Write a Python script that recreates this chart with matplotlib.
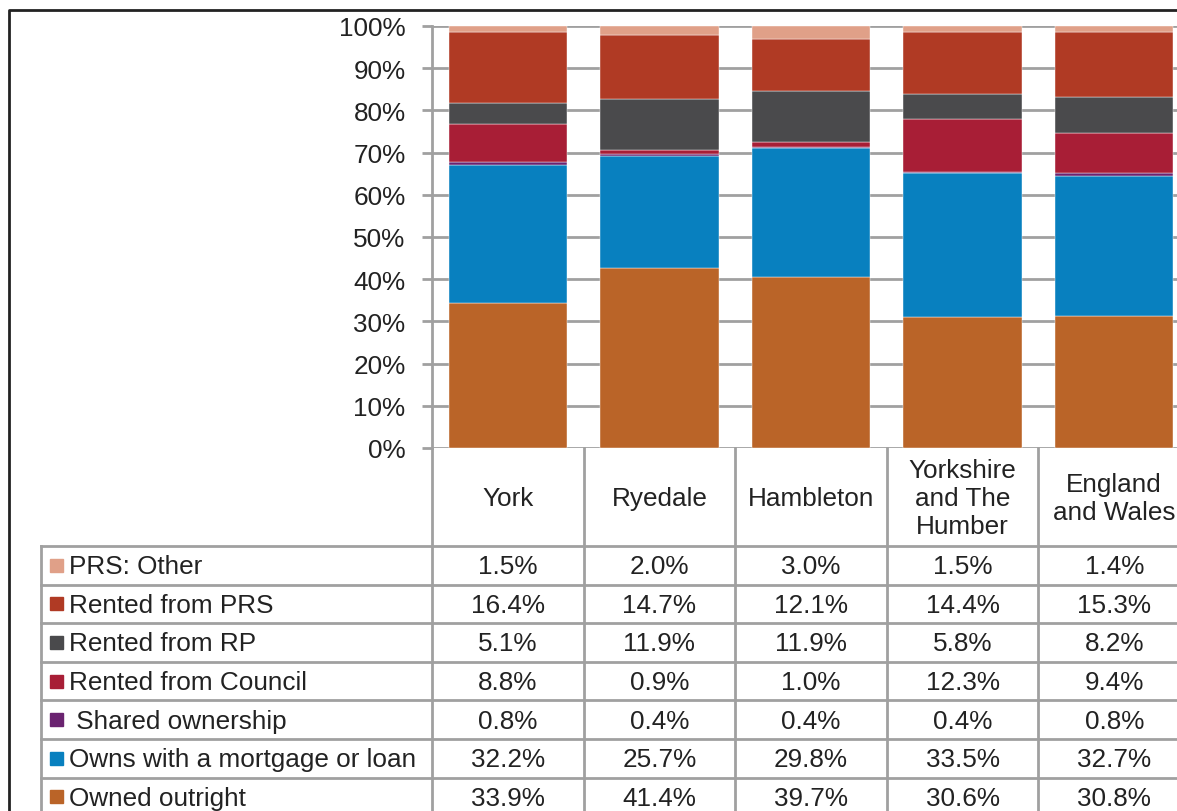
import numpy as np
import matplotlib.pyplot as plt

plt.rcParams['font.family'] = ['Liberation Sans', 'DejaVu Sans']

# Dados
areas = ['York', 'Ryedale', 'Hambleton', 'Yorkshire\nand The\nHumber', 'England\nand Wales']
tenures = ['PRS: Other', 'Rented from PRS', 'Rented from RP', 'Rented from Council',
           ' Shared ownership', 'Owns with a mortgage or loan', 'Owned outright']
prs_other = [1.5, 2.0, 3.0, 1.5, 1.4]
rented_prs = [16.4, 14.7, 12.1, 14.4, 15.3]
rented_rp = [5.1, 11.9, 11.9, 5.8, 8.2]
rented_council = [8.8, 0.9, 1.0, 12.3, 9.4]
shared_own = [0.8, 0.4, 0.4, 0.4, 0.8]
mortgage = [32.2, 25.7, 29.8, 33.5, 32.7]
outright = [33.9, 41.4, 39.7, 30.6, 30.8]
colors = ['#E0A088', '#B03A24', '#4A4A4C', '#A81E36', '#6A2370', '#0880BF', '#BA6428']

series = [prs_other, rented_prs, rented_rp, rented_council, shared_own, mortgage, outright]
totals = np.sum(np.array(series), axis=0)

W, H = 1177, 812
fs = 18.8
fig = plt.figure(figsize=(W / 100, H / 100), dpi=100)

# camada em pixels para tabela e moldura
ax_t = fig.add_axes([0, 0, 1, 1])
ax_t.set_xlim(0, W)
ax_t.set_ylim(H, 0)
ax_t.axis('off')

# grafico de barras empilhadas (100%)
x0, y0, y100, colw = 432, 449, 27, 151.6
ax = fig.add_axes([x0 / W, (H - y0) / H, 5 * colw / W, (y0 - y100) / H])
x = np.arange(len(areas))
bottom = np.zeros(len(areas))
for vals, c in zip(series[::-1], colors[::-1]):
    pct = np.array(vals) / totals * 100
    ax.bar(x, pct, 0.78, bottom=bottom, color=c, edgecolor='white', linewidth=0.3, zorder=3)
    bottom += pct
ax.set_xlim(-0.5, 4.5)
ax.set_ylim(0, 100)
ax.set_yticks(np.arange(0, 101, 10))
ax.set_yticklabels([f'{v}%' for v in range(0, 101, 10)], fontsize=fs, color='#222222')
ax.tick_params(axis='y', length=7, width=2, color='#A0A0A0', pad=12)
ax.tick_params(axis='x', length=0, labelbottom=False)
ax.grid(axis='y', color='#A0A0A0', linewidth=2, zorder=0)
for s in ['top', 'right', 'bottom']:
    ax.spines[s].set_visible(False)
ax.spines['left'].set_color('#A0A0A0')
ax.spines['left'].set_linewidth(2)
ax.patch.set_alpha(0)

# moldura externa
ax_t.plot([9, 9, W + 5], [H + 5, 11, 11], color='#222222', linewidth=2)

# tabela
gc = '#A0A0A0'
row_top = 547
row_h = 38.6
n_rows = len(tenures)
for i in range(len(areas) + 1):
    xv = x0 + i * colw
    ax_t.plot([xv, xv], [y0, H + 5], color=gc, linewidth=2)
ax_t.plot([41, 41], [row_top, H + 5], color=gc, linewidth=2)
for r in range(n_rows + 1):
    yy = row_top + r * row_h
    ax_t.plot([41, W + 5], [yy, yy], color=gc, linewidth=2)

for i, a in enumerate(areas):
    ax_t.text(x0 + (i + 0.5) * colw, 499, a, ha='center', va='center', fontsize=fs,
              color='#222222', linespacing=1.2)

for r, (name, vals, c) in enumerate(zip(tenures, series, colors)):
    yc = row_top + (r + 0.5) * row_h
    ax_t.add_patch(plt.Rectangle((50, yc - 6.5), 13, 13, color=c))
    ax_t.text(69, yc + 1, name, ha='left', va='center', fontsize=fs, color='#222222')
    for i, v in enumerate(vals):
        ax_t.text(x0 + (i + 0.5) * colw, yc + 1, f'{v:.1f}%', ha='center', va='center',
                  fontsize=fs, color='#222222')

fig.savefig('out.png', dpi=100)
